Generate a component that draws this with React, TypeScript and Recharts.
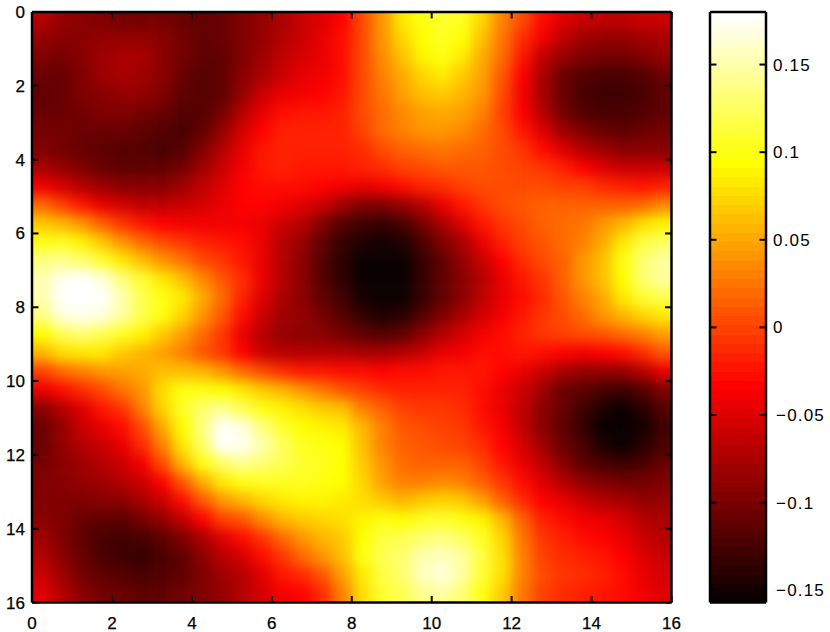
import { ScatterChart, Scatter, XAxis, YAxis } from "recharts";

// cell centres in axis units, one value per half unit
const xCenters = [0.25, 0.75, 1.25, 1.75, 2.25, 2.75, 3.25, 3.75, 4.25, 4.75, 5.25, 5.75, 6.25, 6.75, 7.25, 7.75, 8.25, 8.75, 9.25, 9.75, 10.25, 10.75, 11.25, 11.75, 12.25, 12.75, 13.25, 13.75, 14.25, 14.75, 15.25, 15.75];
const yCenters = xCenters;

const axisTicks = [0, 2, 4, 6, 8, 10, 12, 14, 16];
const barTicks = [-0.15, -0.1, -0.05, 0, 0.05, 0.1, 0.15];

// heat values, in thousandths
const heatRows = [
  [-70,-85,-93,-98,-100,-100,-102,-106,-110,-105,-96,-86,-76,-62,-50,-35,5,40,82,100,108,102,72,30,5,-30,-48,-60,-66,-66,-62,-58],
  [-85,-92,-92,-88,-84,-86,-92,-102,-112,-108,-96,-84,-72,-58,-46,-30,5,38,70,95,104,94,62,25,-10,-40,-65,-80,-85,-84,-80,-75],
  [-98,-100,-92,-80,-76,-78,-90,-104,-113,-110,-94,-80,-66,-52,-42,-28,5,34,60,88,98,85,52,18,-25,-65,-85,-95,-100,-100,-95,-88],
  [-108,-106,-94,-82,-76,-80,-92,-108,-118,-112,-92,-74,-58,-46,-38,-26,4,30,50,72,80,68,44,10,-35,-78,-105,-118,-122,-122,-115,-105],
  [-112,-108,-98,-90,-86,-88,-98,-112,-120,-110,-84,-62,-46,-36,-32,-24,2,26,44,60,66,58,38,4,-38,-78,-108,-122,-126,-128,-122,-112],
  [-106,-106,-104,-98,-96,-100,-108,-118,-118,-100,-70,-46,-30,-24,-24,-20,2,22,36,48,50,44,28,0,-32,-68,-100,-115,-122,-124,-120,-112],
  [-102,-104,-108,-108,-108,-112,-118,-122,-110,-84,-54,-32,-20,-18,-20,-18,0,18,30,38,40,34,22,4,-22,-50,-80,-98,-108,-110,-108,-104],
  [-98,-102,-106,-112,-116,-120,-122,-116,-98,-70,-42,-24,-18,-18,-20,-20,-12,2,14,22,24,22,14,5,-8,-28,-50,-68,-82,-90,-92,-90],
  [-75,-88,-98,-106,-112,-114,-112,-102,-82,-58,-36,-24,-20,-22,-24,-24,-20,-12,-2,4,8,10,8,6,0,-8,-20,-32,-48,-58,-62,-60],
  [-38,-52,-68,-82,-90,-92,-90,-80,-66,-48,-34,-26,-26,-30,-32,-38,-42,-38,-28,-18,-10,-2,4,6,6,4,0,-4,-10,-18,-22,-18],
  [20,0,-22,-42,-56,-64,-64,-60,-52,-42,-34,-34,-38,-50,-60,-80,-94,-98,-88,-68,-42,-24,-8,3,8,12,14,14,14,14,20,35],
  [68,55,40,16,-6,-24,-34,-38,-38,-36,-36,-42,-58,-70,-95,-118,-130,-132,-122,-100,-78,-48,-24,-6,6,14,20,26,40,58,78,88],
  [100,102,90,66,42,22,4,-8,-16,-22,-30,-44,-70,-88,-112,-132,-146,-150,-142,-125,-98,-74,-44,-20,-4,8,18,32,50,80,112,125],
  [135,142,132,108,85,60,42,24,5,-8,-22,-44,-72,-90,-115,-138,-152,-157,-152,-132,-110,-86,-58,-34,-14,2,16,38,62,98,130,148],
  [150,172,185,165,135,108,80,62,36,10,-14,-44,-72,-90,-115,-138,-154,-157,-155,-134,-112,-90,-68,-46,-24,-6,12,38,62,95,128,148],
  [152,185,190,178,150,122,100,82,50,18,-16,-50,-76,-90,-110,-130,-150,-157,-152,-134,-112,-90,-66,-46,-26,-10,8,30,50,80,108,122],
  [135,165,170,165,145,120,98,74,42,8,-28,-62,-82,-88,-102,-118,-134,-144,-140,-120,-96,-76,-54,-36,-22,-8,6,20,38,55,70,82],
  [95,118,128,122,106,88,66,45,18,-8,-44,-72,-86,-90,-92,-100,-112,-120,-112,-92,-72,-52,-40,-28,-18,-8,-2,4,10,18,30,48],
  [55,78,85,80,66,55,48,30,10,-6,-34,-58,-70,-72,-72,-72,-74,-78,-72,-58,-44,-36,-30,-26,-24,-26,-32,-36,-34,-28,-14,8],
  [0,18,32,40,45,50,60,62,55,38,22,5,-12,-22,-24,-26,-30,-32,-30,-26,-24,-22,-24,-32,-44,-62,-76,-85,-88,-84,-70,-42],
  [-42,-26,-10,5,24,42,78,100,100,94,80,68,56,40,26,10,-4,-14,-20,-18,-16,-20,-28,-42,-60,-82,-105,-112,-124,-128,-120,-98],
  [-92,-70,-48,-25,-5,30,70,105,130,138,118,100,88,76,66,60,28,12,-4,-8,-6,-14,-26,-44,-66,-90,-108,-128,-146,-152,-140,-118],
  [-108,-85,-62,-42,-28,5,50,95,135,190,165,135,110,95,88,85,55,28,10,4,0,-8,-22,-40,-64,-90,-110,-132,-154,-157,-150,-128],
  [-105,-88,-72,-58,-46,-14,30,80,125,190,170,150,124,105,96,92,60,32,14,8,6,0,-14,-34,-56,-82,-105,-125,-146,-152,-140,-122],
  [-100,-90,-80,-70,-60,-40,5,55,100,125,140,132,118,108,102,95,68,38,18,14,16,12,0,-22,-42,-66,-92,-112,-125,-130,-125,-108],
  [-96,-92,-86,-80,-72,-58,-32,10,52,85,100,105,104,102,100,92,72,45,30,32,34,30,16,-6,-28,-48,-68,-85,-96,-100,-100,-96],
  [-96,-96,-94,-92,-90,-78,-58,-26,8,42,55,72,85,90,90,82,78,65,58,66,72,68,45,15,-14,-32,-44,-58,-68,-76,-84,-88],
  [-90,-98,-106,-110,-112,-104,-88,-64,-34,-4,10,35,55,65,72,75,88,96,92,104,108,100,88,55,14,-18,-28,-36,-44,-54,-68,-78],
  [-82,-96,-110,-122,-126,-124,-112,-96,-76,-50,-30,-5,18,40,55,68,95,112,118,130,136,125,105,72,26,-6,-18,-26,-32,-42,-58,-70],
  [-72,-90,-108,-122,-130,-132,-124,-110,-92,-72,-55,-30,-5,20,40,62,98,118,132,150,158,148,112,78,30,0,-12,-18,-24,-34,-48,-62],
  [-60,-82,-100,-114,-120,-124,-120,-110,-96,-82,-70,-48,-22,-10,10,45,85,115,130,155,165,145,110,75,30,2,-8,-14,-20,-30,-44,-56],
  [-50,-72,-90,-100,-106,-110,-110,-104,-96,-86,-72,-55,-40,-35,-12,32,78,108,122,140,145,128,100,68,26,0,-10,-16,-22,-30,-40,-50],
];

// colorbar levels, bottom to top, in thousandths
const barLevels = [
  -154.4,-149.1,-143.8,-138.6,-133.3,-128.0,-122.8,-117.5,-112.2,-107.0,-101.7,-96.4,-91.2,-85.9,-80.6,-75.4,
  -70.1,-64.8,-59.6,-54.3,-49.0,-43.8,-38.5,-33.2,-28.0,-22.7,-17.4,-12.2,-6.9,-1.6,3.6,8.9,
  14.2,19.4,24.7,30.0,35.2,40.5,45.8,51.0,56.3,61.6,66.8,72.1,77.4,82.6,87.9,93.2,
  98.4,103.7,109.0,114.2,119.5,124.8,130.0,135.3,140.6,145.8,151.1,156.4,161.6,166.9,172.2,177.4,
];

const heatData = heatRows.flatMap((row, r) =>
  row.map((v, c) => ({ x: xCenters[c], y: yCenters[r], v }))
);
const barData = barLevels.map((v) => ({ x: 0.5, y: v / 1000, v }));

const MIN = -157;
const MAX = 180;
const FONT = "'Liberation Sans', Arial, sans-serif";

// matlab "hot" map, 64 levels
function hot(v: number): string {
  const t = (Math.floor(Math.min(0.9999, Math.max(0, (v - MIN) / (MAX - MIN))) * 64) + 1) / 64;
  const r = Math.min(1, t / 0.375);
  const g = Math.min(1, Math.max(0, (t - 0.375) / 0.375));
  const b = Math.min(1, Math.max(0, (t - 0.75) / 0.25));
  return `rgb(${Math.round(r * 255)},${Math.round(g * 255)},${Math.round(b * 255)})`;
}

function HeatCell({ cx, cy, payload }: any) {
  const w = 20;
  const h = 18.5;
  // edge cells run past the frame so the blur does not fade there
  const left = payload.x < 0.5 ? 40 : 0;
  const right = payload.x > 15.5 ? 40 : 0;
  const top = payload.y < 0.5 ? 40 : 0;
  const bottom = payload.y > 15.5 ? 40 : 0;
  return (
    <rect
      x={cx - w / 2 - left}
      y={cy - h / 2 - top}
      width={w + left + right + 0.5}
      height={h + top + bottom + 0.5}
      fill={hot(payload.v)}
    />
  );
}

function BarCell({ cy, payload }: any) {
  return <rect x={710} y={cy - 4.8} width={56} height={9.6} fill={hot(payload.v)} shapeRendering="crispEdges" />;
}

const NoMark = () => null;

function AxisTick({ x, y, payload, side }: any) {
  const len = 6.5;
  const dirs: Record<string, [number, number]> = {
    left: [len, 0],
    right: [-len, 0],
    top: [0, len],
    bottom: [0, -len],
  };
  const [dx, dy] = dirs[side];
  return (
    <g>
      <line x1={x} y1={y} x2={x + dx} y2={y + dy} stroke="#000" strokeWidth={2} />
      {side === "left" && (
        <text x={x - 7} y={y + 6} textAnchor="end" fontSize={17} fontFamily={FONT} fill="#000" stroke="#000" strokeWidth={0.25}>
          {payload.value}
        </text>
      )}
      {side === "bottom" && (
        <text x={x} y={y + 26} textAnchor="middle" fontSize={17} fontFamily={FONT} fill="#000" stroke="#000" strokeWidth={0.25}>
          {payload.value}
        </text>
      )}
    </g>
  );
}

function BarTick({ x, y, payload, side }: any) {
  const dx = side === "left" ? 6.5 : -6.5;
  const v = payload.value;
  return (
    <g>
      <line x1={x} y1={y} x2={x + dx} y2={y} stroke="#000" strokeWidth={2} />
      {side === "right" && (
        <text x={x + (v < 0 ? 10 : 7)} y={y + 6} fontSize={17} fontFamily={FONT} fill="#000" letterSpacing={1.2}>
          {v < 0 ? `\u2212${Math.abs(v)}` : v}
        </text>
      )}
    </g>
  );
}

const frame = { stroke: "#000", strokeWidth: 2.5 };
const plotMargin = { top: 11, left: 31, right: 157.5, bottom: 28.5 };
const barMargin = { top: 11, left: 709, right: 63, bottom: 28.5 };
const layer: React.CSSProperties = { position: "absolute", left: 0, top: 0 };

export default function App() {
  return (
    <div style={{ position: "absolute", left: 0, top: 0, width: 830, height: 632, background: "#fff", overflow: "hidden" }}>
      {/* cells first, the axes sit in their own chart on top so the ticks stay visible */}
      <div style={layer}>
        <ScatterChart width={830} height={632} margin={plotMargin}>
          <defs>
            <filter id="heatBlur" filterUnits="userSpaceOnUse" x={-50} y={-50} width={930} height={732} colorInterpolationFilters="sRGB">
              <feGaussianBlur stdDeviation={6.5} />
            </filter>
            <clipPath id="heatClip">
              <rect x={32} y={12} width={639.5} height={590.5} />
            </clipPath>
          </defs>
          <style>{`.heat { filter: url(#heatBlur); clip-path: url(#heatClip); }`}</style>
          <XAxis dataKey="x" type="number" domain={[0, 16]} height={1} tick={false} tickLine={false} axisLine={false} />
          <YAxis dataKey="y" type="number" reversed domain={[0, 16]} width={1} tick={false} tickLine={false} axisLine={false} />
          <Scatter className="heat" data={heatData} shape={HeatCell} isAnimationActive={false} />
        </ScatterChart>
      </div>
      <div style={layer}>
        <ScatterChart width={830} height={632} margin={barMargin}>
          <XAxis dataKey="x" type="number" domain={[0, 1]} height={1} tick={false} tickLine={false} axisLine={false} />
          <YAxis dataKey="y" type="number" domain={[MIN / 1000, MAX / 1000]} width={1} tick={false} tickLine={false} axisLine={false} />
          <Scatter data={barData} shape={BarCell} isAnimationActive={false} />
        </ScatterChart>
      </div>
      <div style={layer}>
        <ScatterChart width={830} height={632} margin={plotMargin}>
          <XAxis xAxisId="b" dataKey="x" type="number" domain={[0, 16]} ticks={axisTicks} interval={0} height={1} tickSize={0} tickMargin={0} tickLine={false} axisLine={frame} tick={(p: any) => <AxisTick {...p} side="bottom" />} />
          <XAxis xAxisId="t" dataKey="x" orientation="top" type="number" domain={[0, 16]} ticks={axisTicks} interval={0} height={1} tickSize={0} tickMargin={0} tickLine={false} axisLine={frame} tick={(p: any) => <AxisTick {...p} side="top" />} />
          <YAxis yAxisId="l" dataKey="y" type="number" reversed domain={[0, 16]} ticks={axisTicks} interval={0} width={1} tickSize={0} tickMargin={0} tickLine={false} axisLine={frame} tick={(p: any) => <AxisTick {...p} side="left" />} />
          <YAxis yAxisId="r" dataKey="y" orientation="right" type="number" reversed domain={[0, 16]} ticks={axisTicks} interval={0} width={1} tickSize={0} tickMargin={0} tickLine={false} axisLine={frame} tick={(p: any) => <AxisTick {...p} side="right" />} />
          <Scatter xAxisId="b" yAxisId="l" data={heatData} shape={NoMark} isAnimationActive={false} />
          <Scatter xAxisId="t" yAxisId="r" data={heatData} shape={NoMark} isAnimationActive={false} />
        </ScatterChart>
      </div>
      <div style={layer}>
        <ScatterChart width={830} height={632} margin={barMargin}>
          <XAxis xAxisId="b" dataKey="x" type="number" domain={[0, 1]} height={1} tick={false} tickLine={false} axisLine={frame} />
          <XAxis xAxisId="t" dataKey="x" orientation="top" type="number" domain={[0, 1]} height={1} tick={false} tickLine={false} axisLine={frame} />
          <YAxis yAxisId="l" dataKey="y" type="number" domain={[MIN / 1000, MAX / 1000]} ticks={barTicks} interval={0} width={1} tickSize={0} tickMargin={0} tickLine={false} axisLine={frame} tick={(p: any) => <BarTick {...p} side="left" />} />
          <YAxis yAxisId="r" dataKey="y" orientation="right" type="number" domain={[MIN / 1000, MAX / 1000]} ticks={barTicks} interval={0} width={1} tickSize={0} tickMargin={0} tickLine={false} axisLine={frame} tick={(p: any) => <BarTick {...p} side="right" />} />
          <Scatter xAxisId="b" yAxisId="l" data={barData} shape={NoMark} isAnimationActive={false} />
          <Scatter xAxisId="t" yAxisId="r" data={barData} shape={NoMark} isAnimationActive={false} />
        </ScatterChart>
      </div>
    </div>
  );
}
